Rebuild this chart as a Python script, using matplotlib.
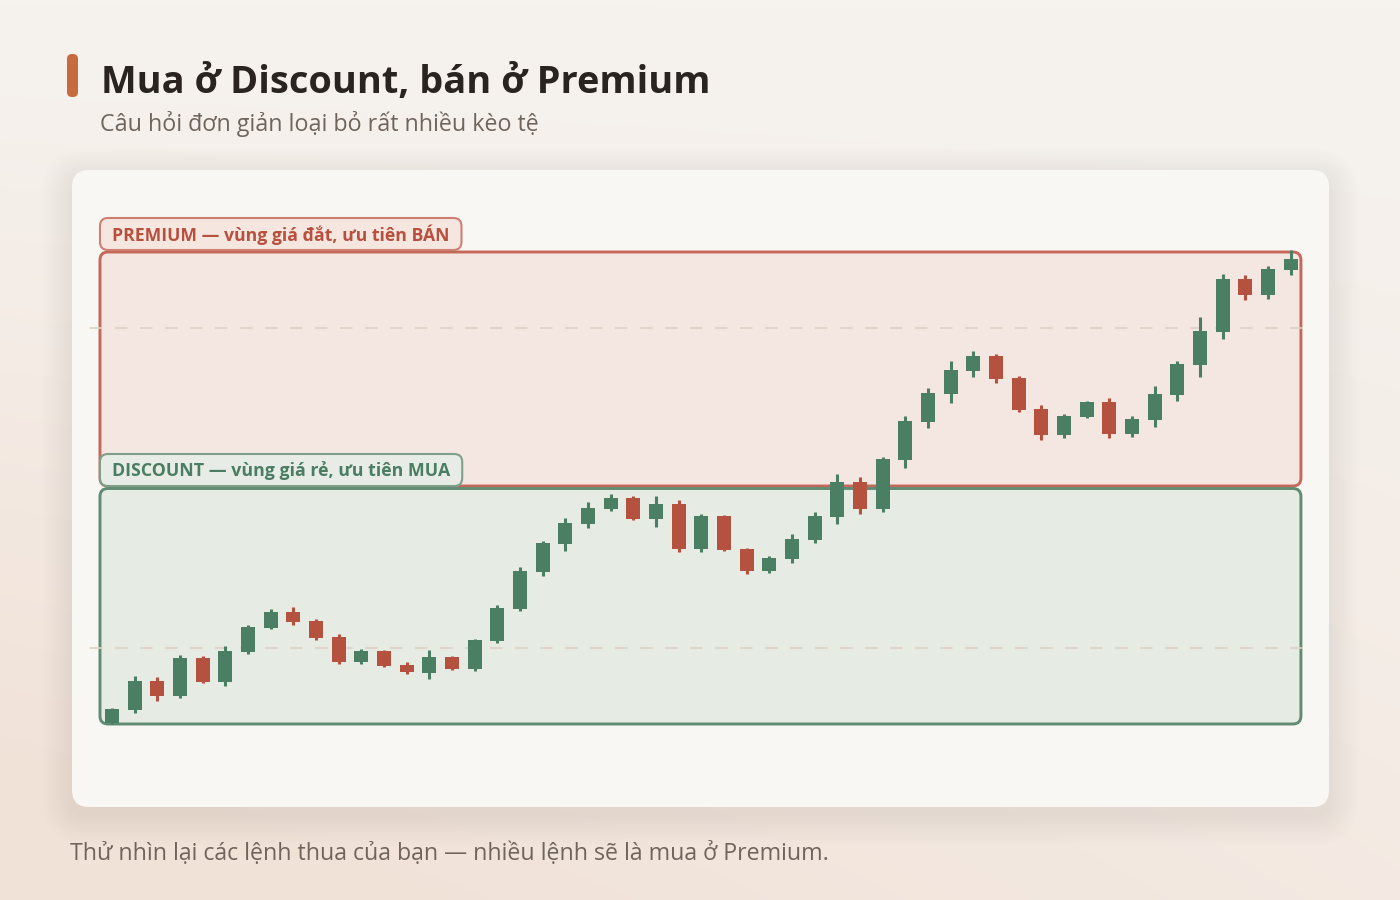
import numpy as np
import matplotlib
matplotlib.use("Agg")
import matplotlib.pyplot as plt
from matplotlib.patches import FancyBboxPatch
from matplotlib.colors import LinearSegmentedColormap

# ---------------- data ----------------
opens = [77, 90, 119, 104, 142, 118, 148, 172, 188, 179, 163, 138, 149, 135, 127, 143, 131, 159,
         191, 228, 256, 276, 291, 302, 281, 296, 251, 284, 251, 229, 241, 260, 283, 318, 291,
         340, 378, 406, 429, 444, 422, 391, 365, 383, 398, 366, 380, 405, 435, 468, 521, 505, 530]
closes = [91, 119, 104, 142, 118, 149, 173, 188, 178, 162, 138, 149, 134, 128, 143, 131, 160, 192,
          229, 257, 277, 292, 302, 281, 296, 251, 284, 250, 229, 242, 261, 284, 318, 291, 341,
          379, 407, 430, 444, 421, 390, 365, 384, 398, 366, 381, 406, 436, 469, 521, 505, 531, 541]
highs = [92, 124, 123, 145, 144, 154, 175, 191, 193, 181, 166, 151, 150, 138, 150, 144, 161, 195,
         233, 259, 282, 298, 306, 304, 304, 300, 286, 285, 252, 244, 266, 288, 326, 323, 343,
         384, 412, 439, 449, 446, 424, 395, 386, 399, 402, 384, 414, 439, 483, 526, 525, 534, 550]
lows = [76, 87, 99, 102, 117, 114, 146, 171, 175, 160, 136, 136, 133, 126, 121, 130, 129, 157,
        189, 224, 249, 272, 289, 280, 273, 248, 248, 249, 226, 227, 237, 257, 276, 286, 288,
        332, 372, 397, 423, 417, 388, 360, 362, 382, 362, 363, 373, 399, 423, 461, 500, 501, 525]
grid_levels = [152, 472]

title = "Mua ở Discount, bán ở Premium"
subtitle = "Câu hỏi đơn giản loại bỏ rất nhiều kèo tệ"
premium_label = "PREMIUM — vùng giá đắt, ưu tiên BÁN"
discount_label = "DISCOUNT — vùng giá rẻ, ưu tiên MUA"
footer = "Thử nhìn lại các lệnh thua của bạn — nhiều lệnh sẽ là mua ở Premium."

# ---------------- style ----------------
plt.rcParams['font.family'] = ['Open Sans', 'DejaVu Sans']
GREEN = '#4b7f63'
RED = '#b5523f'

W, H = 1400, 900
fig = plt.figure(figsize=(14, 9), dpi=100)
renderer = fig.canvas.get_renderer()

bg = fig.add_axes([0, 0, 1, 1])
bg.set_xlim(0, W)
bg.set_ylim(H, 0)
bg.axis('off')
bg.set_zorder(0)

# background gradient
gx = np.linspace(0, 1, 280)
gy = np.linspace(0, 1, 180)
X, Y = np.meshgrid(gx, gy)
t = np.clip(Y * (0.55 + 0.45 * (1 - X)) + 0.15 * (1 - X) * Y, 0, 1)
cmap = LinearSegmentedColormap.from_list('bgc', ['#f6f3ef', '#f1e2d8'])
bg.imshow(t, cmap=cmap, extent=[0, W, H, 0], aspect='auto', interpolation='bilinear',
          vmin=0, vmax=1, zorder=0)

# card shadow + card
cx, cy, cw, ch = 72, 170, 1257, 637
for k in range(30, 0, -2):
    bg.add_patch(FancyBboxPatch((cx - k, cy - k + 8), cw + 2 * k, ch + 2 * k,
                                boxstyle=f"round,pad=0,rounding_size={16 + k}",
                                fc='#5e4b3c', ec='none', alpha=0.0045, zorder=1))
bg.add_patch(FancyBboxPatch((cx, cy), cw, ch, boxstyle="round,pad=0,rounding_size=17",
                            fc='#f9f7f4', ec='none', zorder=2))

# accent bar
bg.add_patch(FancyBboxPatch((67, 54), 11, 43, boxstyle="round,pad=0,rounding_size=5",
                            fc='#c56b3e', ec='none', zorder=3))

def fit(txt, target):
    bb = txt.get_window_extent(renderer)
    txt.set_fontsize(txt.get_fontsize() * target / bb.width)

t1 = bg.text(101, 93, title, fontsize=28, fontweight='bold', color='#2a2420',
             va='baseline', ha='left', zorder=5)
fit(t1, 607)
t2 = bg.text(100, 131, subtitle, fontsize=16, color='#6f655d', va='baseline', ha='left', zorder=5)
fit(t2, 440)
t3 = bg.text(70, 860, footer, fontsize=16, color='#6f655d', va='baseline', ha='left', zorder=5)
fit(t3, 759)

# ---------------- price axes ----------------
ax = fig.add_axes([90 / W, (H - 740) / H, 1220 / W, 500 / H])
ax.set_xlim(-0.97, 52.85)
ax.set_ylim(60, 560)
ax.axis('off')
ax.patch.set_alpha(0)
ax.set_zorder(2)

n = len(opens)
xs = np.arange(n)
o = np.array(opens, float)
c = np.array(closes, float)
hi = np.array(highs, float)
lo = np.array(lows, float)
up = c >= o
cols = np.where(up, GREEN, RED)

ax.hlines(grid_levels, -0.97, 52.85, colors='#ddd3c4', linestyles=(0, (6, 6)), lw=1.5,
          alpha=0.85, zorder=1)
ax.vlines(xs, lo, hi, colors=cols, lw=2.2, zorder=3)
ax.bar(xs, np.abs(c - o), bottom=np.minimum(o, c), width=0.62, color=cols, ec='none', zorder=4)

# zones from swing high / low, converted to pixel coords through the axes transform
swing_high = hi.max()
swing_low = lo.min()
mid = (swing_high + swing_low) / 2

def to_px(x, y):
    dx, dy = ax.transData.transform((x, y))
    return dx, H - dy

zx0, ztop = to_px(-0.53, swing_high)
zx1, zmid = to_px(n - 0.55, mid)
_, zbot = to_px(n - 0.55, swing_low)
ztop += 2

bg.add_patch(FancyBboxPatch((zx0, ztop), zx1 - zx0, (zmid - 1) - ztop,
                            boxstyle="round,pad=0,rounding_size=8",
                            fc='#f4e6e1', ec='#c4685a', lw=2.1, zorder=3))
bg.add_patch(FancyBboxPatch((zx0, zmid + 1.5), zx1 - zx0, zbot - (zmid + 1.5),
                            boxstyle="round,pad=0,rounding_size=8",
                            fc='#e6ebe4', ec='#5f8c73', lw=2.1, zorder=3))

def badge(y_center, text, fc, ec, tc):
    tx = bg.text(zx0 + 12, y_center + 1, text, fontsize=13, fontweight='bold', color=tc,
                 va='center', ha='left', zorder=7)
    fit(tx, 336)
    bb = tx.get_window_extent(renderer)
    wpx = bb.width + 24
    bg.add_patch(FancyBboxPatch((zx0, y_center - 16), wpx, 32,
                                boxstyle="round,pad=0,rounding_size=8",
                                fc=fc, ec=ec, lw=1.5, zorder=6))

badge(ztop - 18, premium_label, '#f5e6e0', '#cd8072', '#b8503e')
badge(zmid - 17, discount_label, '#e7ede6', '#7ea08a', '#4a7d62')

fig.savefig('out.png', dpi=100)
